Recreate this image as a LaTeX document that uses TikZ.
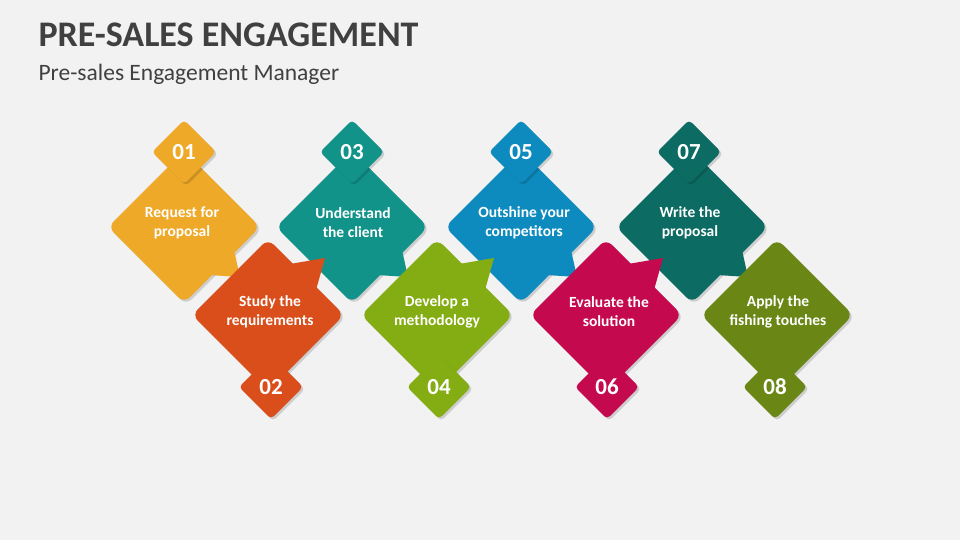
\documentclass[tikz,border=0pt]{standalone}
\usepackage{fontspec}
\setmainfont{Carlito}
\definecolor{bg}{HTML}{F2F2F2}
\definecolor{ttl}{HTML}{404040}
\definecolor{c1}{HTML}{EEA928}
\definecolor{c2}{HTML}{D94E1A}
\definecolor{c3}{HTML}{12938A}
\definecolor{c4}{HTML}{84AC13}
\definecolor{c5}{HTML}{0E8BBE}
\definecolor{c6}{HTML}{C4094F}
\definecolor{c7}{HTML}{0C6B63}
\definecolor{c8}{HTML}{6A8715}
\tikzset{
 lbl/.style={text=white,font=\fontsize{15.5}{19}\selectfont\bfseries,align=center},
 num/.style={text=white,font=\fontsize{23}{24}\selectfont\bfseries},
}
\newcommand{\bigdia}[4]{% x y color tail(0 none,1=down-right,2=up-right)
 \begin{scope}[shift={(#1,#2)}]
 \fill[black,opacity=0.15,rounded corners=8] (2,-74) -- (78,2) -- (2,78) -- (-74,2) -- cycle;
 \fill[#3,rounded corners=8] (0,-76) -- (76,0) -- (0,76) -- (-76,0) -- cycle;
 \ifnum#4=1 \fill[#3] (50,23) -- (56,50) -- (25,48) -- cycle;\fi
 \ifnum#4=2 \fill[#3] (22,-51) -- (57,-57) -- (48,-25) -- cycle;\fi
 \end{scope}}
\newcommand{\smalldia}[3]{%
 \begin{scope}[shift={(#1,#2)}]
 \fill[black,opacity=0.15,rounded corners=4] (2,-30) -- (34,2) -- (2,34) -- (-30,2) -- cycle;
 \fill[#3,rounded corners=4] (0,-32) -- (32,0) -- (0,32) -- (-32,0) -- cycle;
 \end{scope}}
\begin{document}
\begin{tikzpicture}[x=1pt,y=-1pt]
\fill[bg] (0,0) rectangle (960,540);
\useasboundingbox (0,0) rectangle (960,540);
\node[anchor=west,text=ttl,font=\fontsize{36}{40}\selectfont\bfseries] (title) at (35,35) {PRE-SALES ENGAGEMENT};
\node[anchor=west,text=ttl,font=\fontsize{23.5}{26}\selectfont] (sub) at (35,74) {Pre-sales Engagement Manager};
% odd
\bigdia{184}{227}{c1}{1}
\bigdia{352}{227}{c3}{1}
\bigdia{521}{227}{c5}{1}
\bigdia{692}{227}{c7}{1}
\smalldia{184}{152}{c1}
\smalldia{352}{152}{c3}
\smalldia{521}{152}{c5}
\smalldia{689}{152}{c7}
% even
\bigdia{268}{315}{c2}{2}
\bigdia{437}{315}{c4}{2}
\bigdia{606}{315}{c6}{2}
\bigdia{777}{315}{c8}{0}
\smalldia{271}{387}{c2}
\smalldia{439}{387}{c4}
\smalldia{607}{387}{c6}
\smalldia{775}{387}{c8}
\node[num] (n1) at (184,152) {01};
\node[num] (n3) at (352,152) {03};
\node[num] (n5) at (521,152) {05};
\node[num] (n7) at (689,152) {07};
\node[num] (n2) at (271,387) {02};
\node[num] (n4) at (439,387) {04};
\node[num] (n6) at (607,387) {06};
\node[num] (n8) at (775,387) {08};
\node[lbl] (t1) at (182,223) {Request for\\proposal};
\node[lbl] (t3) at (353,223) {Understand\\the client};
\node[lbl] (t5) at (524,223) {Outshine your\\competitors};
\node[lbl] (t7) at (690,223) {Write the\\proposal};
\node[lbl] (t2) at (270,312) {Study the\\requirements};
\node[lbl] (t4) at (437,312) {Develop a\\methodology};
\node[lbl] (t6) at (609,312) {Evaluate the\\solution};
\node[lbl] (t8) at (778,312) {Apply the\\fishing touches};
\end{tikzpicture}
\end{document}
